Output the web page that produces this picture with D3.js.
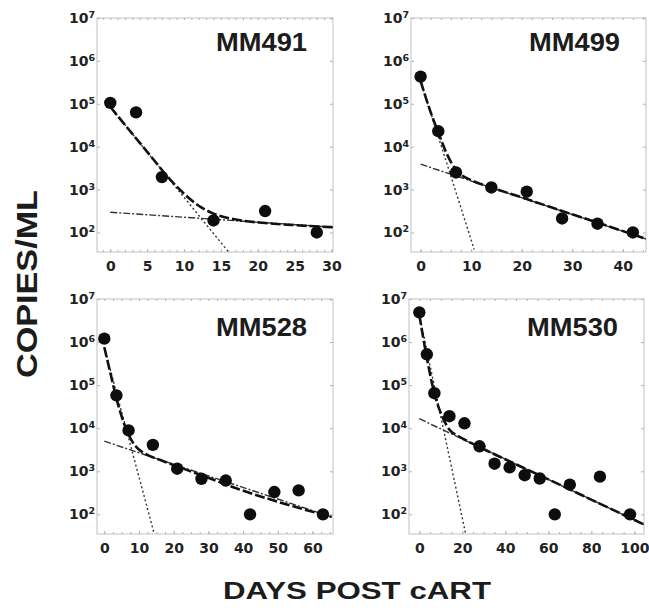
<!DOCTYPE html>
<html>
<head>
<meta charset="utf-8">
<script src="https://cdn.jsdelivr.net/npm/d3@7"></script>
<style>
  body { margin: 0; background: #fff; }
  svg { display: block; }
</style>
</head>
<body>
<svg width="649" height="616"></svg>
<script>
// values (days after cART start, copies/ml)
const panelNames = ['MM491', 'MM499', 'MM528', 'MM530']
const yTickValues = [1e2, 1e3, 1e4, 1e5, 1e6, 1e7]

const mm491XTicks = [0, 5, 10, 15, 20, 25, 30]
const mm491Days = [0, 3.5, 7, 14, 21, 28]
const mm491Copies = [105000, 63000, 1950, 190, 315, 100]
const mm491FitDays = [0, 2, 4, 6, 8, 10, 12, 14, 17, 21, 25, 30.3]
const mm491FitCopies = [85000, 32000, 12300, 4700, 1800, 800, 420, 275, 200, 166, 148, 132]
const mm491FastDays = [0, 16.1]
const mm491FastCopies = [85000, 34]
const mm491SlowDays = [0, 30.3]
const mm491SlowCopies = [295, 132]

const mm499XTicks = [0, 10, 20, 30, 40]
const mm499Days = [0, 3.5, 7, 14, 21, 28, 35, 42]
const mm499Copies = [430000, 23000, 2500, 1120, 890, 212, 160, 100]
const mm499FitDays = [0, 2, 3.5, 5, 6.1, 7.8, 10, 14, 21, 28, 35, 45]
const mm499FitCopies = [340000, 63000, 21400, 7600, 4200, 2350, 1660, 1120, 600, 316, 170, 68]
const mm499FastDays = [0, 10.6]
const mm499FastCopies = [340000, 40]
const mm499SlowDays = [0, 45]
const mm499SlowCopies = [3900, 68]

const mm528XTicks = [0, 10, 20, 30, 40, 50, 60]
const mm528Days = [0, 3.5, 7, 14, 21, 28, 35, 42, 49, 56, 63]
const mm528Copies = [1200000, 58000, 8900, 4100, 1150, 670, 610, 100, 330, 360, 100]
const mm528FitDays = [0, 1.7, 3.4, 6.9, 8.3, 9.8, 11.7, 16.5, 28, 39.6, 50.1, 65.5]
const mm528FitCopies = [760000, 200000, 52500, 7400, 4570, 3300, 2570, 1780, 810, 363, 195, 87]
const mm528FastDays = [0, 14.4]
const mm528FastCopies = [760000, 35]
const mm528SlowDays = [0, 65.5]
const mm528SlowCopies = [5000, 87]

const mm530XTicks = [0, 20, 40, 60, 80, 100]
const mm530Days = [0, 3.5, 7, 14, 21, 28, 35, 42, 49, 56, 63, 70, 84, 98]
const mm530Copies = [4900000, 520000, 65000, 19000, 13000, 3800, 1500, 1230, 810, 680, 100, 490, 750, 100]
const mm530FitDays = [0, 3.4, 7, 10.4, 14.3, 18.1, 27.8, 47.6, 67.8, 86.4, 104.6]
const mm530FitCopies = [4270000, 457000, 64600, 20000, 8900, 6600, 3700, 1260, 427, 155, 58]
const mm530FastDays = [0, 21.6]
const mm530FastCopies = [4270000, 34]
const mm530SlowDays = [0, 104.6]
const mm530SlowCopies = [16600, 58]

// layout
const yMin = 35
const yMax = 1e7
const panels = [
    { name: panelNames[0], x: 97, y: 18, w: 236, h: 234, xDomain: [-1.8, 30.2], minorStep: 1, titleY: 33,
      xTicks: mm491XTicks, days: mm491Days, copies: mm491Copies, fitDays: mm491FitDays, fitCopies: mm491FitCopies,
      fastDays: mm491FastDays, fastCopies: mm491FastCopies, slowDays: mm491SlowDays, slowCopies: mm491SlowCopies },
    { name: panelNames[1], x: 411, y: 18, w: 235, h: 234, xDomain: [-1.9, 44.6], minorStep: 2, titleY: 33,
      xTicks: mm499XTicks, days: mm499Days, copies: mm499Copies, fitDays: mm499FitDays, fitCopies: mm499FitCopies,
      fastDays: mm499FastDays, fastCopies: mm499FastCopies, slowDays: mm499SlowDays, slowCopies: mm499SlowCopies },
    { name: panelNames[2], x: 97, y: 299, w: 236, h: 235, xDomain: [-2.1, 65.9], minorStep: 2.5, titleY: 37,
      xTicks: mm528XTicks, days: mm528Days, copies: mm528Copies, fitDays: mm528FitDays, fitCopies: mm528FitCopies,
      fastDays: mm528FastDays, fastCopies: mm528FastCopies, slowDays: mm528SlowDays, slowCopies: mm528SlowCopies },
    { name: panelNames[3], x: 409, y: 299, w: 235, h: 235, xDomain: [-4.8, 104.5], minorStep: 5, titleY: 37,
      xTicks: mm530XTicks, days: mm530Days, copies: mm530Copies, fitDays: mm530FitDays, fitCopies: mm530FitCopies,
      fastDays: mm530FastDays, fastCopies: mm530FastCopies, slowDays: mm530SlowDays, slowCopies: mm530SlowCopies }
]

const tickFont = "'DejaVu Sans', sans-serif"
const titleFont = "'Liberation Sans', Arial, sans-serif"
const frameColor = '#c2c2c2'

let svg = d3.select('svg')
let defs = svg.append('defs')

function styleAxis(sel) {
    sel.select('.domain').remove()
    sel.selectAll('.tick line').attr('stroke', '#b4b4b4')
    sel.selectAll('.tick text')
        .attr('fill', '#222')
        .attr('font-family', tickFont)
        .attr('font-weight', 'bold')
        .attr('font-size', 14)
}

function drawPanel(p, i) {
    let g = svg.append('g').attr('transform', `translate(${p.x},${p.y})`)

    let xScale = d3.scaleLinear().domain(p.xDomain).range([0, p.w])
    let yScale = d3.scaleLog().domain([yMin, yMax]).range([p.h, 0])

    defs.append('clipPath').attr('id', 'clip' + i)
        .append('rect').attr('width', p.w).attr('height', p.h)

    g.append('rect')
        .attr('width', p.w).attr('height', p.h)
        .attr('fill', '#fff').attr('stroke', frameColor)

    // small inward ticks round the frame
    let start = Math.ceil(p.xDomain[0] / p.minorStep) * p.minorStep
    let minor = d3.range(start, p.xDomain[1], p.minorStep)
    g.append('g').call(d3.axisTop(xScale).tickValues(minor).tickSize(-2).tickFormat(''))
        .call(styleAxis)
    g.append('g').attr('transform', `translate(0,${p.h})`)
        .call(d3.axisBottom(xScale).tickValues(minor).tickSize(-2).tickFormat(''))
        .call(styleAxis)
    g.append('g').attr('transform', `translate(${p.w},0)`)
        .call(d3.axisRight(yScale).tickValues(yTickValues).tickSize(-3).tickFormat(''))
        .call(styleAxis)

    // labelled axes
    g.append('g').attr('transform', `translate(0,${p.h})`)
        .call(d3.axisBottom(xScale).tickValues(p.xTicks).tickSize(-3).tickPadding(9).tickFormat(d3.format('d')))
        .call(styleAxis)

    let yAxis = g.append('g')
        .call(d3.axisLeft(yScale).tickValues(yTickValues).tickSize(-3).tickPadding(2).tickFormat(''))
        .call(styleAxis)
    yAxis.selectAll('.tick text').each(function (d) {
        let t = d3.select(this)
        t.append('tspan').text('10')
        t.append('tspan').attr('dy', -5).attr('font-size', 9.5)
            .text(Math.round(Math.log10(d)))
    })

    let line = d3.line()
        .x(d => xScale(d[0]))
        .y(d => yScale(d[1]))

    let lines = g.append('g').attr('clip-path', `url(#clip${i})`)

    lines.append('path')
        .datum(p.slowDays.map((d, k) => [d, p.slowCopies[k]]))
        .attr('d', line)
        .attr('fill', 'none').attr('stroke', '#333')
        .attr('stroke-width', 1.4).attr('stroke-dasharray', '7,2,2,2')

    lines.append('path')
        .datum(p.fastDays.map((d, k) => [d, p.fastCopies[k]]))
        .attr('d', line)
        .attr('fill', 'none').attr('stroke', '#333')
        .attr('stroke-width', 1.4).attr('stroke-dasharray', '2,2.5')

    lines.append('path')
        .datum(p.fitDays.map((d, k) => [d, p.fitCopies[k]]))
        .attr('d', line.curve(d3.curveMonotoneX))
        .attr('fill', 'none').attr('stroke', '#111')
        .attr('stroke-width', 2.6).attr('stroke-dasharray', '10,3')

    g.append('g').selectAll('circle')
        .data(p.days.map((d, k) => [d, p.copies[k]]))
        .enter()
        .append('circle')
        .attr('cx', d => xScale(d[0]))
        .attr('cy', d => yScale(d[1]))
        .attr('r', 6.2)
        .attr('fill', '#0d0d0d')

    g.append('text')
        .attr('x', p.w - 26).attr('y', p.titleY)
        .attr('text-anchor', 'end')
        .attr('font-family', titleFont).attr('font-weight', 'bold')
        .attr('font-size', 25).attr('fill', '#1c1c1c')
        .attr('textLength', 91).attr('lengthAdjust', 'spacingAndGlyphs')
        .text(p.name)
}

function drawTitles() {
    svg.append('text')
        .attr('transform', 'translate(37,284) rotate(-90)')
        .attr('text-anchor', 'middle')
        .attr('font-family', titleFont).attr('font-weight', 'bold')
        .attr('font-size', 30).attr('fill', '#1c1c1c')
        .attr('textLength', 188).attr('lengthAdjust', 'spacingAndGlyphs')
        .text('COPIES/ML')

    svg.append('text')
        .attr('x', 357).attr('y', 599)
        .attr('text-anchor', 'middle')
        .attr('font-family', titleFont).attr('font-weight', 'bold')
        .attr('font-size', 23).attr('fill', '#1c1c1c')
        .attr('textLength', 268).attr('lengthAdjust', 'spacingAndGlyphs')
        .text('DAYS POST cART')
}

panels.forEach(drawPanel)
drawTitles()
</script>
</body>
</html>
